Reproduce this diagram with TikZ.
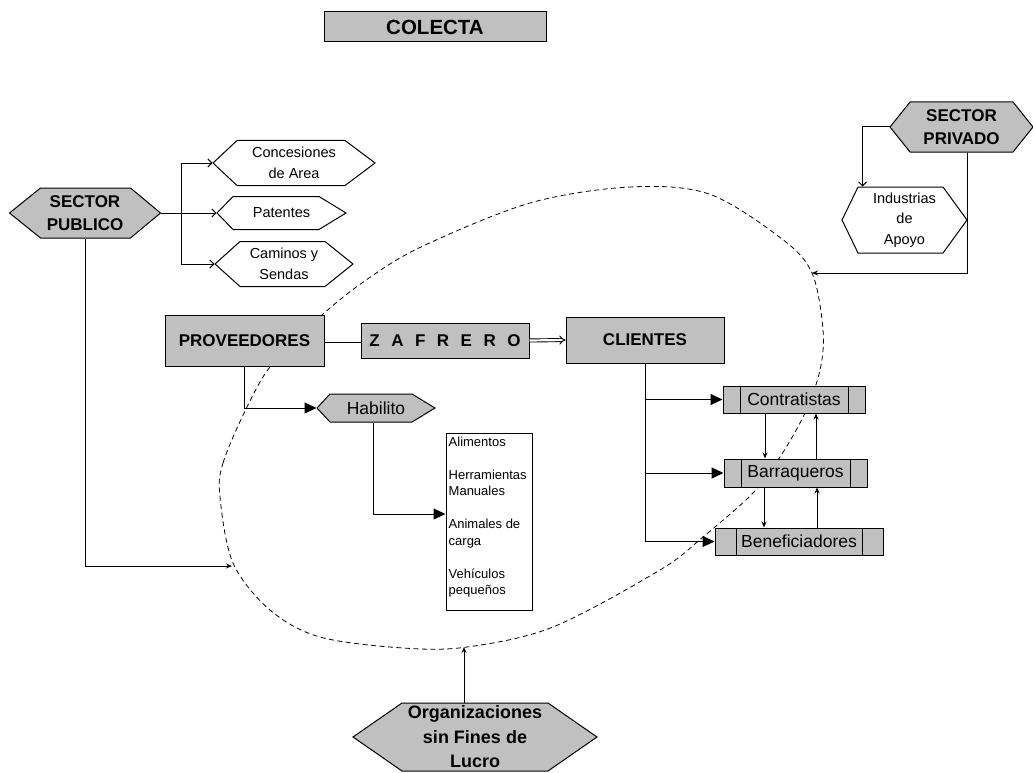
\documentclass[tikz,border=0pt]{standalone}
\usepackage{fontspec}
\setmainfont{Liberation Sans}
\usetikzlibrary{arrows.meta,calc}

\definecolor{boxgray}{HTML}{C0C0C0}

% font sizes (1pt = 1px in this picture)
\newcommand\fTitle{\fontsize{20.5}{24}\selectfont\bfseries}
\newcommand\fBold{\fontsize{17}{23}\selectfont\bfseries}
\newcommand\fOrg{\fontsize{18}{24.5}\selectfont\bfseries}
\newcommand\fHex{\fontsize{14.5}{20.5}\selectfont}
\newcommand\fProc{\fontsize{17.5}{20}\selectfont}
\newcommand\fList{\fontsize{13}{16.5}\selectfont}

\tikzset{
  box/.style={draw, line width=1pt, fill=boxgray, inner sep=0pt, align=center},
  procbox/.style={box, font=\fProc,
    path picture={
      \draw[line width=1pt] ([xshift=#1]path picture bounding box.north west) -- ([xshift=#1]path picture bounding box.south west);
      \draw[line width=1pt] ([xshift=-#1]path picture bounding box.north east) -- ([xshift=-#1]path picture bounding box.south east);
    }},
  procbox/.default=17pt,
  hexgray/.style={draw, line width=1pt, fill=boxgray},
  hexwhite/.style={draw, line width=1pt, fill=white},
  hexlabel/.style={inner sep=0pt, align=center},
  conn/.style={line width=1pt},
  bigarr/.style={conn, -{Triangle[length=12pt,width=11pt]}},
  smallarr/.style={conn, -{Stealth[length=6pt,width=5pt]}},
  barbarr/.style={conn, -{Straight Barb[length=4pt,width=8pt]}},
  dbl/.style={double, double distance=2.2pt, line width=0.9pt},
  ringline/.style={dashed, dash pattern=on 5pt off 3.5pt, line width=0.8pt},
}

% hexagon with flat top/bottom: name, cx, cy, width, height, left depth, right depth, options, text
\newcommand\hexnode[9]{%
  \path[#8] (#2-#4/2,#3) -- (#2-#4/2+#6,#3-#5/2) -- (#2+#4/2-#7,#3-#5/2) -- (#2+#4/2,#3)
        -- (#2+#4/2-#7,#3+#5/2) -- (#2-#4/2+#6,#3+#5/2) -- cycle;
  \node[#8, hexlabel, draw=none, fill=none, minimum width=#4, minimum height=#5] (#1) at (#2,#3) {#9};
}

\begin{document}
\begin{tikzpicture}[x=1pt, y=-1pt]
\useasboundingbox (0,0) rectangle (1033,773);
\clip (0,0) rectangle (1033,773);
\fill[white] (0,0) rectangle (1033,773);

% dashed ring around the collecting activity
\draw[ringline] plot[smooth cycle, tension=0.55] coordinates {
  (220,497) (223,463) (247,407) (273,363) (323,314) (369,278) (423,246) (530,203)
  (630,187) (709,194) (782,239) (812,273) (823,330) (820,370) (805,413) (780,457)
  (753,493) (703,537) (660,570) (553,627) (467,647) (403,648) (320,637) (270,610) (233,563)};
\coordinate (ellL) at (232,566);
\coordinate (ellR) at (812,273);
\coordinate (ellB) at (464,647);

% title
\node[box, font=\fTitle, minimum width=222, minimum height=30] (title) at (435,27) {COLECTA};

% public sector and its grants
\hexnode{pub}{85}{213}{151}{50}{31}{30}{hexgray, font=\fBold}{SECTOR\\PUBLICO}
\hexnode{conc}{294}{163}{162}{45}{24}{30}{hexwhite, font=\fHex}{Concesiones\\de Area}
\hexnode{pat}{281.5}{213}{129}{33}{16}{27}{hexwhite, font=\fHex}{Patentes}
\hexnode{cam}{284}{264}{138}{45}{25}{28}{hexwhite, font=\fHex}{Caminos y\\Sendas}

% private sector
\hexnode{priv}{961.5}{127}{143}{50}{20}{20}{hexgray, font=\fBold}{SECTOR\\PRIVADO}
\hexnode{ind}{904.5}{220}{125}{66}{16}{24}{hexwhite, font=\fHex}{Industrias\\de\\Apoyo}

% main chain
\node[box, font=\fBold, minimum width=159, minimum height=51] (prov) at (244.5,340.5) {PROVEEDORES};
\node[box, font=\fBold, minimum width=168, minimum height=35] (zaf) at (445,340.5)
  {Z\hspace{11.5pt}A\hspace{11.5pt}F\hspace{11.5pt}R\hspace{11.5pt}E\hspace{11.5pt}R\hspace{11.5pt}O};
\node[box, font=\fBold, minimum width=158, minimum height=46] (cli) at (645,340) {CLIENTES};

% supplies
\hexnode{hab}{376}{408}{118}{28}{13}{23}{hexgray, font=\fProc}{Habilito}
\node[draw, line width=1pt, fill=white, minimum width=86, minimum height=177, inner sep=0pt] (list) at (489,521.5) {};
\node[anchor=north west, inner sep=0pt, align=left, font=\fList] (listtxt) at ([xshift=3pt,yshift=-4pt]list.north west)
  {Alimentos\\[16.5pt]Herramientas\\Manuales\\[16.5pt]Animales de\\carga\\[16.5pt]Vehículos\\pequeños};

% buyers
\node[procbox, minimum width=142, minimum height=27] (contr) at (794,399.5) {Contratistas};
\node[procbox, minimum width=143, minimum height=28] (barr) at (795.5,473) {Barraqueros};
\node[procbox=21pt, minimum width=168, minimum height=27] (ben) at (799,541.5) {Beneficiadores};

% non-profit organisations
\hexnode{org}{475}{737}{244}{68}{49}{49}{hexgray, font=\fOrg}{Organizaciones\\sin Fines de\\Lucro}

% connectors: public sector
\draw[barbarr] (pub.east) -- ([xshift=20pt]pub.east) |- (conc.west);
\draw[barbarr] (pub.east) -- (pat.west);
\draw[barbarr] ([xshift=20pt]pub.east) |- (cam.west);
\draw[smallarr] (pub.south) |- (ellL);

% connectors: private sector
\draw[barbarr] (priv.west) -| ([xshift=-42pt]ind.north);
\draw[smallarr] (priv.south -| ind.east) -- (ind.east) |- (ellR);

% connectors: main chain
\draw[dbl] (prov.east) -- (zaf.west);
\draw[dbl, -{Implies[length=7pt]}] (zaf.east) -- (cli.west);
\draw[bigarr] (prov.south) |- (hab.west);
\draw[bigarr] ([xshift=-3pt]hab.south) |- ([yshift=7.5pt]list.west);

% connectors: buyers
\draw[bigarr] (cli.south) |- (ben.west);
\draw[bigarr] (cli.south |- contr.west) -- (contr.west);
\draw[bigarr] (cli.south |- barr.west) -- (barr.west);
\draw[smallarr] ([xshift=-29pt]contr.south) -- ([xshift=-29pt]contr.south |- barr.north);
\draw[smallarr] ([xshift=22pt]contr.south |- barr.north) -- ([xshift=22pt]contr.south);
\draw[smallarr] ([xshift=-31.5pt]barr.south) -- ([xshift=-31.5pt]barr.south |- ben.north);
\draw[smallarr] ([xshift=21.5pt]barr.south |- ben.north) -- ([xshift=21.5pt]barr.south);

% connector: non-profit organisations
\draw[smallarr] ([xshift=-11pt]org.north) -- (ellB);
\end{tikzpicture}
\end{document}
